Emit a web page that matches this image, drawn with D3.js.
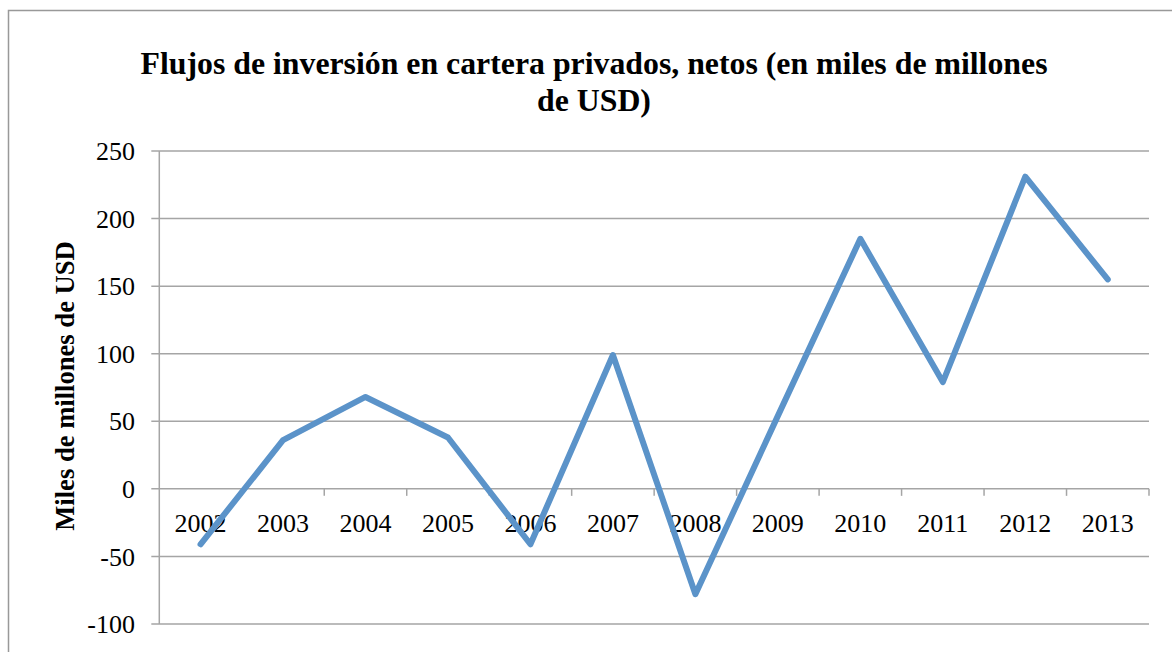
<!DOCTYPE html>
<html><head><meta charset="utf-8">
<script src="https://cdn.jsdelivr.net/npm/d3@7"></script>
<style>body{margin:0;background:#fff;} svg{display:block;}</style>
</head><body>
<svg id="chart" width="1172" height="652"></svg>
<script>
const years = ["2002","2003","2004","2005","2006","2007","2008","2009","2010","2011","2012","2013"];
const values = [-41, 36, 68, 38, -41, 99, -78, 54, 185, 79, 231, 155];
const yTicks = [-100, -50, 0, 50, 100, 150, 200, 250];
const titleLines = ["Flujos de inversión en cartera privados, netos (en miles de millones", "de USD)"];
const yLabel = "Miles de millones de USD";

const svg = d3.select("#chart");
const font = "'Liberation Serif','Times New Roman',serif";
const plotLeft = 159.3, plotRight = 1149, plotTop = 151, plotBottom = 624;

svg.append("rect").attr("x", 8.5).attr("y", 10.5).attr("width", 1200).attr("height", 700)
  .attr("fill", "none").attr("stroke", "#999").attr("stroke-width", 1.5);

const x = d3.scaleBand().domain(years).range([plotLeft, plotRight]);
const y = d3.scaleLinear().domain([-100, 250]).range([plotBottom, plotTop]);

// gridlines
svg.append("g").selectAll("line").data(yTicks).join("line")
  .attr("x1", plotLeft - 8).attr("x2", plotRight)
  .attr("y1", d => y(d)).attr("y2", d => y(d))
  .attr("stroke", "#a5a5a5").attr("stroke-width", 1.5);

// y axis line
svg.append("line").attr("x1", plotLeft).attr("x2", plotLeft).attr("y1", plotTop).attr("y2", plotBottom)
  .attr("stroke", "#a5a5a5").attr("stroke-width", 1.5);

// y tick labels
svg.append("g").selectAll("text").data(yTicks).join("text")
  .attr("x", 135).attr("y", d => y(d)).attr("dy", "0.35em")
  .attr("text-anchor", "end").attr("font-family", font).attr("font-size", 26)
  .attr("fill", "#000").text(d => d);

// x axis ticks at zero
const bounds = years.map(d => x(d)).concat([plotRight]);
svg.append("g").selectAll("line").data(bounds.slice(1)).join("line")
  .attr("x1", d => d).attr("x2", d => d).attr("y1", y(0)).attr("y2", y(0) + 7)
  .attr("stroke", "#a5a5a5").attr("stroke-width", 1.5);

// x labels
svg.append("g").selectAll("text").data(years).join("text")
  .attr("x", d => x(d) + x.bandwidth() / 2).attr("y", 532)
  .attr("text-anchor", "middle").attr("font-family", font).attr("font-size", 26)
  .attr("fill", "#000").text(d => d);

// line
const line = d3.line().x((d, i) => x(years[i]) + x.bandwidth() / 2).y(d => y(d));
svg.append("path").datum(values).attr("d", line)
  .attr("fill", "none").attr("stroke", "#5b93c9").attr("stroke-width", 6)
  .attr("stroke-linejoin", "round").attr("stroke-linecap", "round");

// title
svg.append("g").selectAll("text").data(titleLines).join("text")
  .attr("x", 594).attr("y", (d, i) => 74 + i * 37)
  .attr("text-anchor", "middle").attr("font-family", font).attr("font-size", 31.8)
  .attr("font-weight", "bold").attr("fill", "#000").text(d => d);

// y label
svg.append("text").attr("transform", "translate(74,386) rotate(-90)")
  .attr("text-anchor", "middle").attr("font-family", font).attr("font-size", 26.6)
  .attr("font-weight", "bold").attr("fill", "#000").text(yLabel);
</script>
</body></html>
